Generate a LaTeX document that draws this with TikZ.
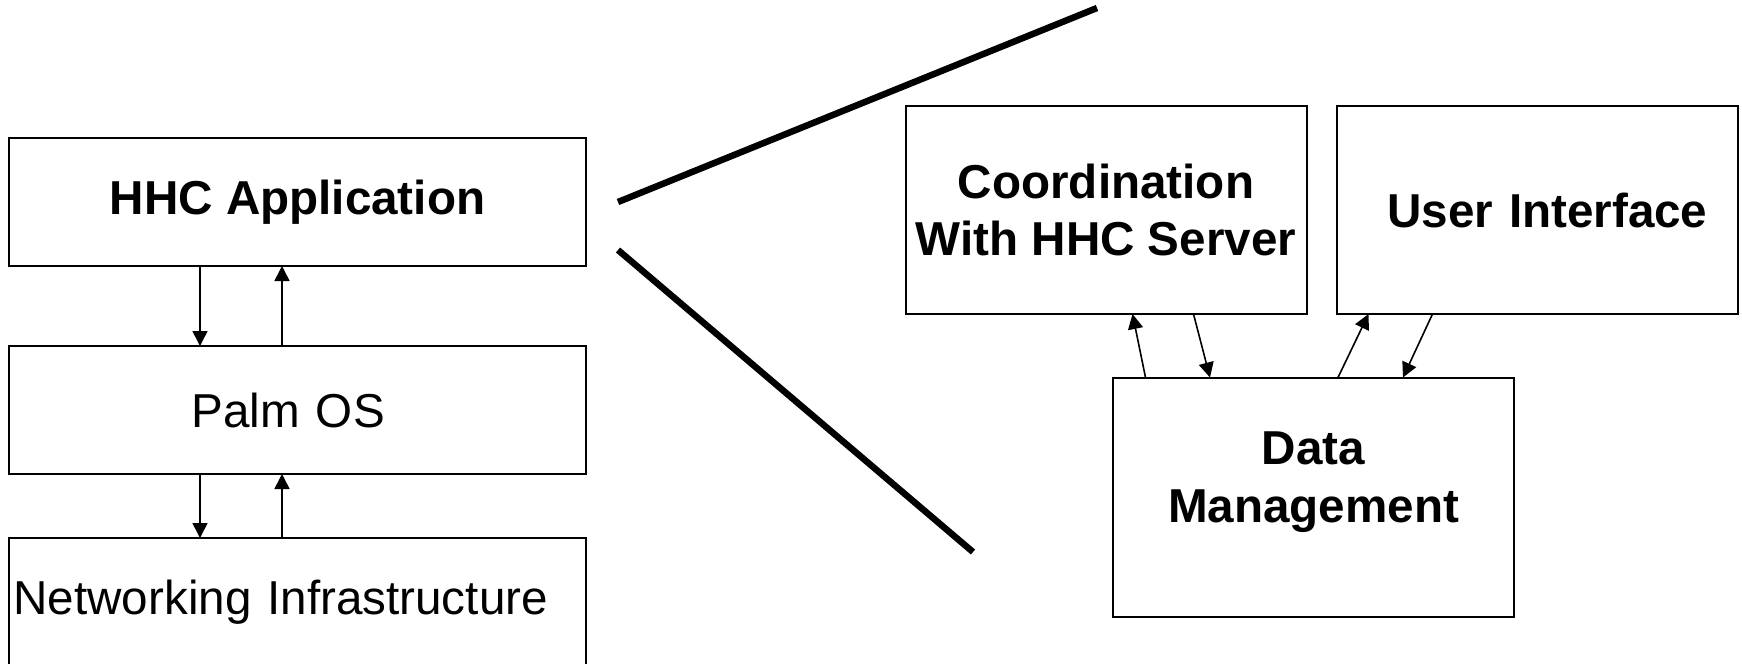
\documentclass[tikz,border=0pt]{standalone}
\usepackage{fontspec}
\setmainfont{Liberation Sans}
\usetikzlibrary{arrows.meta,positioning}
\newcommand{\boxfont}{\fontsize{23.8}{28.8}\selectfont}

\begin{document}
\begin{tikzpicture}[x=0.5pt,y=-0.5pt,
  box/.style={draw,line width=1pt,outer sep=0pt,inner sep=0pt,
    minimum width=288.5pt,minimum height=64pt,font=\boxfont},
  part/.style={box,minimum width=200.5pt,minimum height=104pt,
    align=center,font=\boxfont\bfseries},
  link/.style={-{Triangle[length=7.5pt,width=7.5pt]},line width=0.8pt},
  zoomline/.style={line width=3.25pt}]
  \useasboundingbox (0,0) rectangle (1742,664);
  \clip (0,0) rectangle (1742,664);

  % layers of the handheld
  \node[box,font=\boxfont\bfseries] (app) at (297.5,202) {HHC Application};
  \node[box,text width=105.8pt,align=left] (os) [below=40pt of app] {Palm OS};
  \node[box,text width=284pt,align=left] (net) [below=32pt of os] {Networking Infrastructure};

  % parts of the application
  \node[part] (coord) at (1106,210) {Coordination\\With HHC Server};
  \node[part,text width=170.5pt,align=right] (ui) [right=15pt of coord] {User Interface};
  \node[part,minimum height=119.5pt,text depth=20pt] (data) at (1313.5,497) {Data\\Management};

  \draw[link] ([xshift=-48.75pt]app.south) -- ([xshift=-48.75pt]os.north);
  \draw[link] ([xshift=-7.75pt]os.north) -- ([xshift=-7.75pt]app.south);
  \draw[link] ([xshift=-48.75pt]os.south) -- ([xshift=-48.75pt]net.north);
  \draw[link] ([xshift=-7.75pt]net.north) -- ([xshift=-7.75pt]os.south);

  \draw[link] ([xshift=-84pt]data.north) -- ([xshift=13.25pt]coord.south);
  \draw[link] ([xshift=43.75pt]coord.south) -- ([xshift=-51.75pt]data.north);
  \draw[link] ([xshift=12.25pt]data.north) -- ([xshift=-84.25pt]ui.south);
  \draw[link] ([xshift=-52.25pt]ui.south) -- ([xshift=44.75pt]data.north);

  % zoom lines
  \coordinate (upend) at (1097,8);
  \coordinate (lowend) at (973,552);
  \draw[zoomline] ([xshift=16pt]app.east) -- (upend);
  \draw[zoomline] ([xshift=16pt,yshift=-24pt]app.east) -- (lowend);
\end{tikzpicture}
\end{document}
